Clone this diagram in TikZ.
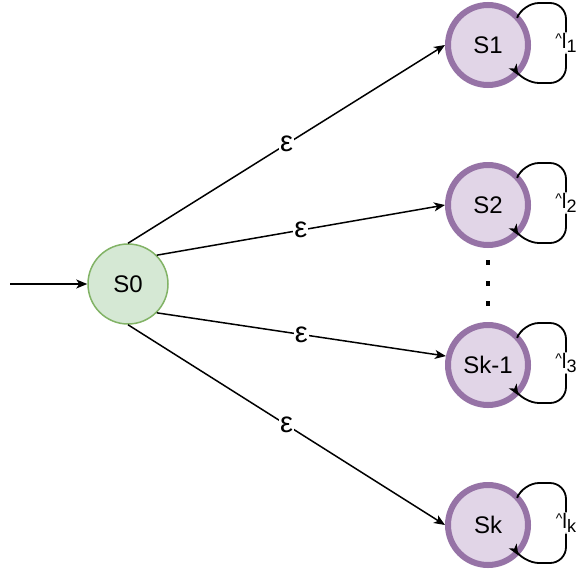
\documentclass[tikz,border=0pt]{standalone}
\usepackage{fontspec}
\setmainfont{Liberation Sans}
\usetikzlibrary{arrows.meta,calc}
\definecolor{gfill}{HTML}{D5E8D4}
\definecolor{gdraw}{HTML}{82B366}
\definecolor{pfill}{HTML}{E1D5E7}
\definecolor{pdraw}{HTML}{9673A6}
\begin{document}
\begin{tikzpicture}[x=1pt,y=-1pt,
  every node/.style={font=\fontsize{24}{28}\selectfont},
  startst/.style={circle, minimum size=80pt, inner sep=0pt, draw=gdraw, fill=gfill, line width=1.5pt},
  finst/.style={circle, minimum size=80pt, inner sep=0pt, draw=pdraw, fill=pfill, line width=6pt},
  edge/.style={line width=1.5pt, -{Stealth[length=11pt,width=9pt,inset=3pt]}},
  loopline/.style={line width=1.8pt, rounded corners=16pt, -{Stealth[length=11pt,width=9pt,inset=3pt]}},
  eps/.style={fill=white, inner sep=1pt, font=\fontsize{29}{30}\selectfont},
  looplab/.style={fill=white, inner sep=1pt},
  dotst/.style={fill=black, minimum width=4.5pt, minimum height=5pt, inner sep=0pt}
]
\fill[white] (0,0) rectangle (580,568);
\useasboundingbox (0,0) rectangle (580,568);

\node[startst] (S0) at (128,284) {S0};
\node[finst] (S1) at (488,45) {S1};
\node[finst] (S2) at (488,205) {S2};
\node[finst] (Sk1) at (488,365) {Sk-1};
\node[finst] (Sk) at (488,525) {Sk};

\coordinate (in) at (10,284);
\draw[edge] (in) -- (S0.west);

\draw[edge] (S0.north) -- node[eps]{ε} (S1.west);
\draw[edge] (S0.45) -- node[eps]{ε} (S2.west);
\draw[edge] (S0.-45) -- node[eps]{ε} (Sk1.168);
\draw[edge] (S0.south) -- node[eps]{ε} (Sk.west);

\foreach \n/\lab in {S1/1,S2/2,Sk1/3,Sk/k}{
  \draw[loopline] (\n.45) -- ($(\n.center)+(35,-42)$) -- ($(\n.center)+(78,-42)$)
    -- node[looplab]{\raisebox{5pt}{\fontsize{14}{14}\selectfont\textasciicircum}\fontsize{21}{22}\selectfont l\raisebox{-4pt}{\fontsize{18}{18}\selectfont \lab}} ($(\n.center)+(78,38)$)
    -- ($(\n.center)+(35,38)$) -- (\n.-45);
}

\node[dotst] (d1) at (488,262) {};
\node[dotst] (d2) at (488,283) {};
\node[dotst] (d3) at (488,303) {};
\end{tikzpicture}
\end{document}
